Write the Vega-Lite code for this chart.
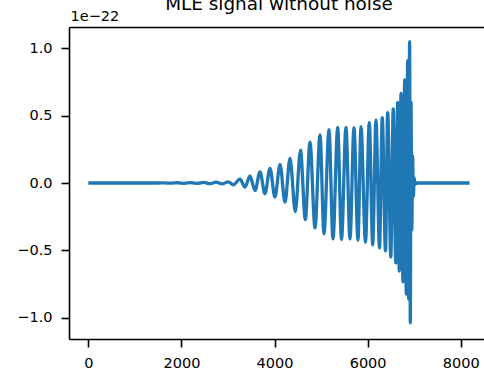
{
  "$schema": "https://vega.github.io/schema/vega-lite/v6.json",
  "width": 415,
  "height": 312,
  "autosize": {"type": "none"},
  "padding": {"left": 69, "top": 27, "right": 0, "bottom": 34},
  "background": "white",
  "config": {
    "view": {"stroke": null},
    "font": "DejaVu Sans",
    "axis": {
      "grid": false,
      "domainColor": "black",
      "domainWidth": 1.6,
      "tickColor": "black",
      "tickWidth": 1.6,
      "tickSize": 8,
      "labelFont": "DejaVu Sans",
      "labelFontSize": 14.5,
      "labelColor": "black",
      "titleFont": "DejaVu Sans",
      "titleFontWeight": "normal",
      "titleColor": "black"
    }
  },
  "title": {
    "text": "MLE signal without noise",
    "font": "DejaVu Sans",
    "fontSize": 18.4,
    "fontWeight": "normal",
    "color": "black",
    "anchor": "middle",
    "frame": "group",
    "baseline": "alphabetic",
    "offset": 0,
    "dx": 2.5,
    "dy": 20
  },
  "data": {
    "values": [
      {"x": 0, "y": 0},
      {"x": 1500, "y": 0},
      {"x": 1626, "y": 0.001},
      {"x": 1776, "y": -0.0015},
      {"x": 1927, "y": 0.002},
      {"x": 2066, "y": -0.0025},
      {"x": 2206, "y": 0.003},
      {"x": 2346, "y": -0.0035},
      {"x": 2485, "y": 0.004},
      {"x": 2614, "y": -0.005},
      {"x": 2743, "y": 0.006},
      {"x": 2872, "y": -0.007},
      {"x": 3007, "y": 0.009},
      {"x": 3115, "y": -0.013},
      {"x": 3258, "y": 0.029},
      {"x": 3366, "y": -0.03},
      {"x": 3473, "y": 0.053},
      {"x": 3581, "y": -0.056},
      {"x": 3688, "y": 0.083},
      {"x": 3795, "y": -0.08},
      {"x": 3903, "y": 0.108},
      {"x": 4010, "y": -0.105},
      {"x": 4118, "y": 0.137},
      {"x": 4225, "y": -0.142},
      {"x": 4333, "y": 0.183},
      {"x": 4446, "y": -0.212},
      {"x": 4558, "y": 0.243},
      {"x": 4661, "y": -0.271},
      {"x": 4762, "y": 0.302},
      {"x": 4870, "y": -0.333},
      {"x": 4977, "y": 0.356},
      {"x": 5063, "y": -0.377},
      {"x": 5170, "y": 0.395},
      {"x": 5256, "y": -0.414},
      {"x": 5357, "y": 0.412},
      {"x": 5439, "y": -0.419},
      {"x": 5535, "y": 0.412},
      {"x": 5621, "y": -0.414},
      {"x": 5707, "y": 0.41},
      {"x": 5793, "y": -0.425},
      {"x": 5858, "y": 0.417},
      {"x": 5954, "y": -0.44},
      {"x": 6036, "y": 0.449},
      {"x": 6109, "y": -0.459},
      {"x": 6180, "y": 0.467},
      {"x": 6255, "y": -0.481},
      {"x": 6315, "y": 0.484},
      {"x": 6384, "y": -0.503},
      {"x": 6431, "y": 0.521},
      {"x": 6498, "y": -0.548},
      {"x": 6551, "y": 0.549},
      {"x": 6605, "y": -0.592},
      {"x": 6646, "y": 0.598},
      {"x": 6680, "y": -0.652},
      {"x": 6717, "y": 0.664},
      {"x": 6760, "y": -0.733},
      {"x": 6796, "y": 0.764},
      {"x": 6831, "y": -0.823},
      {"x": 6861, "y": 0.907},
      {"x": 6882, "y": -0.86},
      {"x": 6902, "y": 1.048},
      {"x": 6917, "y": -1.036},
      {"x": 6932, "y": 0.6},
      {"x": 6949, "y": -0.35},
      {"x": 6966, "y": 0.2},
      {"x": 6983, "y": -0.1},
      {"x": 7000, "y": 0.04},
      {"x": 7017, "y": -0.01},
      {"x": 7050, "y": 0},
      {"x": 8191, "y": 0}
    ]
  },
  "layer": [
    {
      "mark": {"type": "line", "color": "#1f77b4", "strokeWidth": 3.3, "interpolate": "monotone", "strokeJoin": "round", "clip": true},
      "encoding": {
        "x": {
          "field": "x",
          "type": "quantitative",
          "scale": {"domain": [-414.6, 8500], "nice": false, "zero": false},
          "axis": {"values": [0, 2000, 4000, 6000, 8000], "format": "d", "title": null, "labelPadding": 9, "labelFlush": false}
        },
        "y": {
          "field": "y",
          "type": "quantitative",
          "scale": {"domain": [-1.156, 1.156], "nice": false, "zero": false},
          "axis": {
            "values": [-1, -0.5, 0, 0.5, 1],
            "format": ".1f",
            "labelPadding": 9,
            "title": "1e\u221222",
            "titleAngle": 0,
            "titleAlign": "left",
            "titleBaseline": "alphabetic",
            "titleX": 1,
            "titleY": -7,
            "titleFontSize": 14.5
          }
        }
      }
    },
    {
      "data": {"values": [{"x": 0, "y": 0}]},
      "mark": {"type": "point", "opacity": 0},
      "encoding": {
        "x": {
          "field": "x",
          "type": "quantitative",
          "axis": {"orient": "top", "labels": false, "ticks": false, "title": null, "domain": true}
        },
        "y": {"field": "y", "type": "quantitative"}
      }
    }
  ],
  "resolve": {"axis": {"x": "independent"}}
}
